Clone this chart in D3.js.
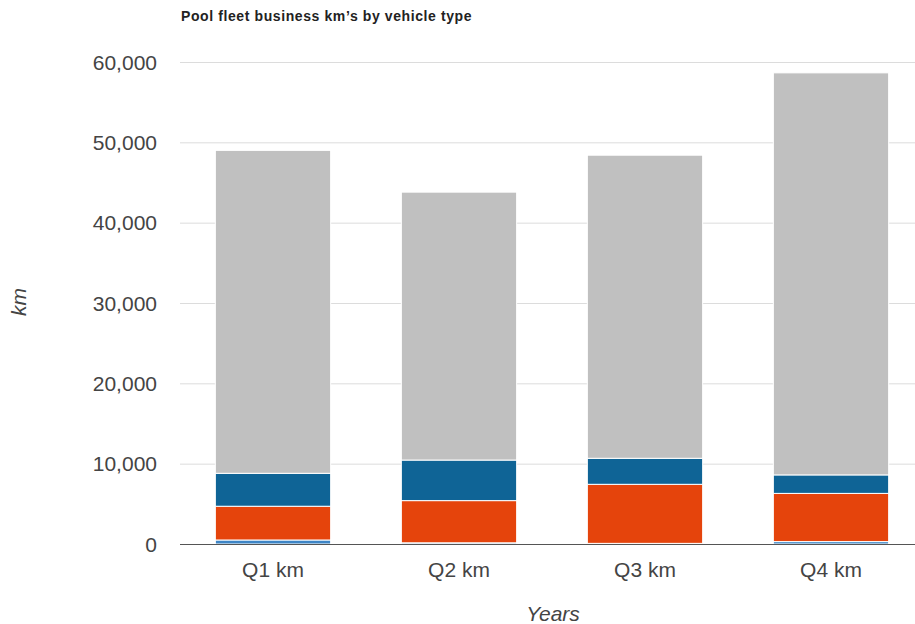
<!DOCTYPE html>
<html>
<head>
<meta charset="utf-8">
<script src="https://cdn.jsdelivr.net/npm/d3@7"></script>
<style>
    body { margin: 0; background: #fff; }
    text { font-family: "Liberation Sans", Arial, sans-serif; }
</style>
</head>
<body>
<div id="chart"></div>
<script>
'use strict';

// quarters on the x axis
var quarters = ['Q1 km', 'Q2 km', 'Q3 km', 'Q4 km'];

// stacked from the bottom up
var seriesNames = ['Type A', 'Type B', 'Type C', 'Type D'];
var typeA = [500, 150, 80, 300];
var typeB = [4200, 5250, 7350, 6000];
var typeC = [4100, 5050, 3240, 2300];
var typeD = [40200, 33350, 37730, 50050];
var seriesColors = ['#3d85c6', '#e5440c', '#0f6496', '#c0c0c0'];

var yTicks = [0, 10000, 20000, 30000, 40000, 50000, 60000];

var width = 915, height = 624;
var margin = {top: 62, right: 0, bottom: 80, left: 180};

var svg = d3.select('#chart').append('svg')
    .attr('width', width)
    .attr('height', height);

//build rows for d3.stack
var rows = quarters.map(function(q, i) {
    return {quarter: q, 'Type A': typeA[i], 'Type B': typeB[i], 'Type C': typeC[i], 'Type D': typeD[i]};
});
var stacked = d3.stack().keys(seriesNames)(rows);

var x = d3.scaleBand()
    .domain(quarters)
    .range([margin.left, 924])
    .paddingInner(0.38)
    .paddingOuter(0.19);

var y = d3.scaleLinear()
    .domain([0, 60000])
    .range([height - margin.bottom, margin.top]);

//gridlines
svg.append('g')
    .selectAll('line')
    .data(yTicks.slice(1))
    .enter().append('line')
    .attr('x1', margin.left)
    .attr('x2', width)
    .attr('y1', function(d) { return y(d) + 0.5; })
    .attr('y2', function(d) { return y(d) + 0.5; })
    .attr('stroke', '#dcdcdc')
    .attr('stroke-width', 1);

//y tick labels
svg.append('g')
    .selectAll('text')
    .data(yTicks)
    .enter().append('text')
    .attr('x', 157)
    .attr('y', function(d) { return y(d) + 7.5; })
    .attr('text-anchor', 'end')
    .attr('font-size', '21px')
    .attr('fill', '#444')
    .text(d3.format(','));

//bars
svg.append('g')
    .selectAll('g')
    .data(stacked)
    .enter().append('g')
    .attr('fill', function(d, i) { return seriesColors[i]; })
    .selectAll('rect')
    .data(function(d) { return d; })
    .enter().append('rect')
    .attr('x', function(d) { return x(d.data.quarter); })
    .attr('y', function(d) { return y(d[1]); })
    .attr('width', x.bandwidth())
    .attr('height', function(d) { return Math.max(0, y(d[0]) - y(d[1])); })
    .attr('stroke', '#fff')
    .attr('stroke-width', 1);

//baseline
svg.append('line')
    .attr('x1', margin.left)
    .attr('x2', width)
    .attr('y1', y(0) + 0.5)
    .attr('y2', y(0) + 0.5)
    .attr('stroke', '#555')
    .attr('stroke-width', 1.2);

//x tick labels
svg.append('g')
    .selectAll('text')
    .data(quarters)
    .enter().append('text')
    .attr('x', function(d) { return x(d) + x.bandwidth() / 2; })
    .attr('y', 577)
    .attr('text-anchor', 'middle')
    .attr('font-size', '21px')
    .attr('fill', '#444')
    .text(function(d) { return d; });

//axis titles
svg.append('text')
    .attr('x', 553)
    .attr('y', 621)
    .attr('text-anchor', 'middle')
    .attr('font-size', '21px')
    .attr('font-style', 'italic')
    .attr('fill', '#444')
    .text('Years');

svg.append('text')
    .attr('transform', 'translate(26,302) rotate(-90)')
    .attr('text-anchor', 'middle')
    .attr('font-size', '21px')
    .attr('font-style', 'italic')
    .attr('fill', '#444')
    .text('km');

//title
svg.append('text')
    .attr('x', 181)
    .attr('y', 21)
    .attr('font-size', '14px')
    .attr('font-weight', 'bold')
    .attr('letter-spacing', '0.6px')
    .attr('fill', '#222')
    .text('Pool fleet business km\u2019s by vehicle type');
</script>
</body>
</html>
